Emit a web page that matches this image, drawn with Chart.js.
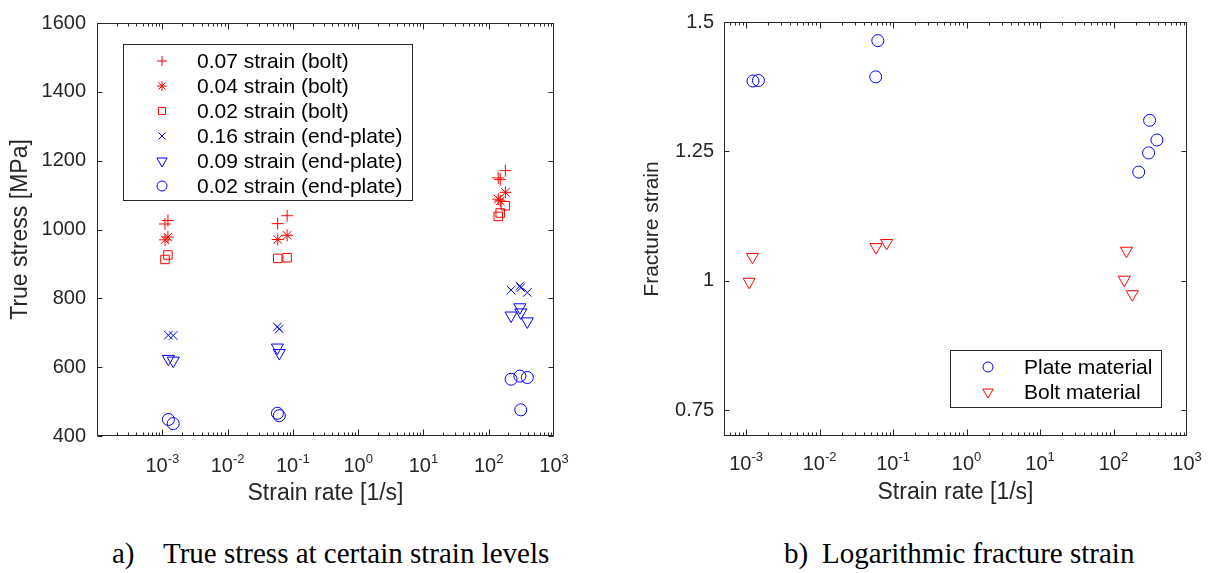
<!DOCTYPE html>
<html>
<head>
<meta charset="utf-8">
<script src="https://cdn.jsdelivr.net/npm/chart.js@4.4.1/dist/chart.umd.min.js"></script>
<style>
  html, body { margin: 0; padding: 0; background: #fff; }
  body { width: 1212px; height: 573px; position: relative; overflow: hidden; }
  canvas { position: absolute; top: 0; }
  #stress { left: 0; }
  #fracture { left: 600px; }
  .caption { position: absolute; top: 536px; font-family: "Liberation Serif", "Times New Roman", serif;
             font-size: 29px; line-height: 34px; color: #000; white-space: nowrap; }
</style>
</head>
<body>
<canvas id="stress" width="600" height="510"></canvas>
<canvas id="fracture" width="612" height="510"></canvas>
<div class="caption" style="left:112px">a)</div>
<div class="caption" style="left:163px">True stress at certain strain levels</div>
<div class="caption" style="left:784px">b)</div>
<div class="caption" style="left:822px">Logarithmic fracture strain</div>

<script>
// strain rates [1/s] of the bolt and end-plate tests
const boltRate  = [0.0011, 0.00122, 0.0586, 0.0817, 140, 150, 180];
const plateRate = [0.00124, 0.00147, 0.058, 0.062, 220, 300, 310, 390];

// true stress [MPa] at given strain levels
const bolt07  = [1016, 1026, 1017, 1040, 1150, 1145, 1171];
const bolt04  = [970, 978, 971, 983, 1088, 1083, 1108];
const bolt02  = [913, 926, 916, 918, 1038, 1048, 1069];
const plate16 = [693, 692, 717, 711, 824, 836, 831, 817];
const plate09 = [624, 619, 657, 641, 750, 774, 759, 733];
const plate02 = [448, 436, 466, 459, 565, 574, 476, 570];

// logarithmic fracture strain
const plateFracture = [1.386, 1.387, 1.394, 1.464, 1.21, 1.247, 1.31, 1.272];
const boltFracture  = [0.998, 1.046, 1.065, 1.073, 1.002, 1.058, 0.974];

const stressLabels = ['0.07 strain (bolt)', '0.04 strain (bolt)', '0.02 strain (bolt)',
  '0.16 strain (end-plate)', '0.09 strain (end-plate)', '0.02 strain (end-plate)'];
const fractureLabels = ['Plate material', 'Bolt material'];
const decades = [-3, -2, -1, 0, 1, 2, 3];
const fractureTicks = [0.75, 1, 1.25, 1.5];

const RED = '#ff0000', BLUE = '#0000ff', AXIS = '#262626';
const SANS = '"Liberation Sans", Arial, Helvetica, sans-serif';

const pairs = (xs, ys) => ys.map((y, i) => ({ x: xs[i], y: y }));

function series(label, xs, ys, color, style, radius, rotation) {
  return {
    label: label,
    data: pairs(xs, ys),
    borderColor: color,
    backgroundColor: 'rgba(0,0,0,0)',
    pointStyle: style,
    pointRadius: radius,
    pointRotation: rotation || 0,
    pointBorderWidth: 1,
    showLine: false,
    clip: false
  };
}

// box, inward log ticks and 10^n labels, drawn the matlab way
const frameTicks = {
  id: 'frameTicks',
  afterDraw(chart, args, opts) {
    const { ctx, chartArea: a } = chart;
    const xs = chart.scales.x, ys = chart.scales.y;
    const L = Math.round(a.left) + 0.5, R = Math.round(a.right) - 0.5;
    const T = Math.round(a.top) + 0.5, B = Math.round(a.bottom) - 0.5;
    ctx.save();
    ctx.strokeStyle = AXIS;
    ctx.lineWidth = 1;
    ctx.strokeRect(L, T, R - L, B - T);
    ctx.beginPath();
    for (let e = Math.floor(Math.log10(xs.min)); e < Math.log10(xs.max); e++) {
      for (let k = 1; k <= 9; k++) {
        const v = k * Math.pow(10, e);
        if (v < xs.min * 0.999 || v > xs.max * 1.001) continue;
        const px = Math.round(xs.getPixelForValue(v)) + 0.5;
        const len = k === 1 ? 6 : 3;
        ctx.moveTo(px, B); ctx.lineTo(px, B - len);
        ctx.moveTo(px, T); ctx.lineTo(px, T + len);
      }
    }
    ys.ticks.forEach(t => {
      const py = Math.round(ys.getPixelForValue(t.value)) + 0.5;
      ctx.moveTo(L, py); ctx.lineTo(L + 5, py);
      ctx.moveTo(R, py); ctx.lineTo(R - 5, py);
    });
    ctx.stroke();

    ctx.fillStyle = AXIS;
    ctx.textBaseline = 'alphabetic';
    ctx.textAlign = 'left';
    decades.forEach(e => {
      const px = xs.getPixelForValue(Math.pow(10, e));
      ctx.font = '20px ' + SANS;
      const w1 = ctx.measureText('10').width;
      ctx.font = '13px ' + SANS;
      const w2 = ctx.measureText(String(e)).width;
      const x0 = px - (w1 + w2) / 2;
      ctx.font = '20px ' + SANS;
      ctx.fillText('10', x0, opts.labelY);
      ctx.font = '13px ' + SANS;
      ctx.fillText(String(e), x0 + w1, opts.labelY - 9);
    });
    ctx.restore();
  }
};

// boxed legend placed inside the axes
const boxLegend = {
  id: 'boxLegend',
  afterDraw(chart, args, o) {
    const ctx = chart.ctx;
    ctx.save();
    ctx.fillStyle = '#fff';
    ctx.fillRect(o.x, o.y, o.w, o.h);
    ctx.strokeStyle = AXIS;
    ctx.lineWidth = 1;
    ctx.strokeRect(o.x + 0.5, o.y + 0.5, o.w, o.h);
    chart.data.datasets.forEach((ds, i) => {
      const cy = o.rowTop + i * o.rowStep;
      ctx.strokeStyle = ds.borderColor;
      ctx.fillStyle = 'rgba(0,0,0,0)';
      ctx.lineWidth = 1;
      Chart.helpers.drawPoint(ctx, {
        pointStyle: ds.pointStyle, rotation: ds.pointRotation,
        radius: ds.pointRadius - 1, borderWidth: 1
      }, o.symX, cy);
      ctx.fillStyle = '#000';
      ctx.font = o.font + ' ' + SANS;
      ctx.textBaseline = 'middle';
      ctx.fillText(ds.label, o.textX, cy + 1);
    });
    ctx.restore();
  }
};

function baseOptions(cfg) {
  return {
    responsive: false,
    animation: false,
    events: [],
    layout: { padding: cfg.padding },
    plugins: {
      legend: { display: false },
      tooltip: { enabled: false },
      frameTicks: { labelY: cfg.labelY },
      boxLegend: cfg.legend
    },
    scales: {
      x: {
        type: 'logarithmic',
        min: cfg.xMin, max: 1000,
        grid: { display: false, drawTicks: false },
        border: { display: false },
        ticks: { display: false },
        title: { display: true, text: 'Strain rate [1/s]', color: AXIS,
                 font: { family: SANS, size: 23 }, padding: { top: 0, bottom: cfg.xTitlePad } },
        afterFit: s => { s.height = cfg.xHeight; }
      },
      y: {
        type: 'linear',
        min: cfg.yMin, max: cfg.yMax,
        grid: { display: false, drawTicks: false },
        border: { display: false },
        ticks: Object.assign({ color: AXIS, padding: cfg.tickPad, font: { family: SANS, size: 20 },
                               callback: v => String(v) }, cfg.yTicks || {}),
        afterBuildTicks: cfg.yBuild,
        title: { display: true, text: cfg.yTitle, color: AXIS,
                 font: { family: SANS, size: cfg.yTitleSize }, padding: { top: cfg.yTitlePad, bottom: 0 } },
        afterFit: s => { s.width = cfg.yWidth; }
      }
    }
  };
}

new Chart(document.getElementById('stress'), {
  type: 'scatter',
  data: {
    datasets: [
      series(stressLabels[0], boltRate, bolt07, RED, 'cross', 6),
      series(stressLabels[1], boltRate, bolt04, RED, 'star', 6),
      series(stressLabels[2], boltRate, bolt02, RED, 'rect', 6),
      series(stressLabels[3], plateRate, plate16, BLUE, 'crossRot', 6),
      series(stressLabels[4], plateRate, plate09, BLUE, 'triangle', 7, 180),
      series(stressLabels[5], plateRate, plate02, BLUE, 'circle', 6)
    ]
  },
  options: baseOptions({
    padding: { top: 20, right: 46, left: 0, bottom: 0 },
    xMin: 1e-4, xHeight: 74, xTitlePad: 3, labelY: 472,
    yMin: 400, yMax: 1600, yTicks: { stepSize: 200 },
    yWidth: 97, tickPad: 11, yTitle: 'True stress [MPa]', yTitleSize: 23, yTitlePad: 7,
    legend: { x: 123, y: 44, w: 289, h: 156, symX: 162, textX: 197, rowTop: 61, rowStep: 25, font: '21px' }
  }),
  plugins: [frameTicks, boxLegend]
});

new Chart(document.getElementById('fracture'), {
  type: 'scatter',
  data: {
    datasets: [
      series(fractureLabels[0], plateRate, plateFracture, BLUE, 'circle', 6),
      series(fractureLabels[1], boltRate, boltFracture, RED, 'triangle', 7, 180)
    ]
  },
  options: baseOptions({
    padding: { top: 17, right: 25, left: 0, bottom: 0 },
    xMin: 5e-4, xHeight: 74, xTitlePad: 4, labelY: 470,
    yMin: 0.7, yMax: 1.5,
    yBuild: s => { s.ticks = fractureTicks.map(v => ({ value: v })); },
    yWidth: 124, tickPad: 10, yTitle: 'Fracture strain', yTitleSize: 21, yTitlePad: 40,
    legend: { x: 350, y: 350, w: 211, h: 57, symX: 388, textX: 424, rowTop: 367, rowStep: 25, font: '21px' }
  }),
  plugins: [frameTicks, boxLegend]
});
</script>
</body>
</html>
